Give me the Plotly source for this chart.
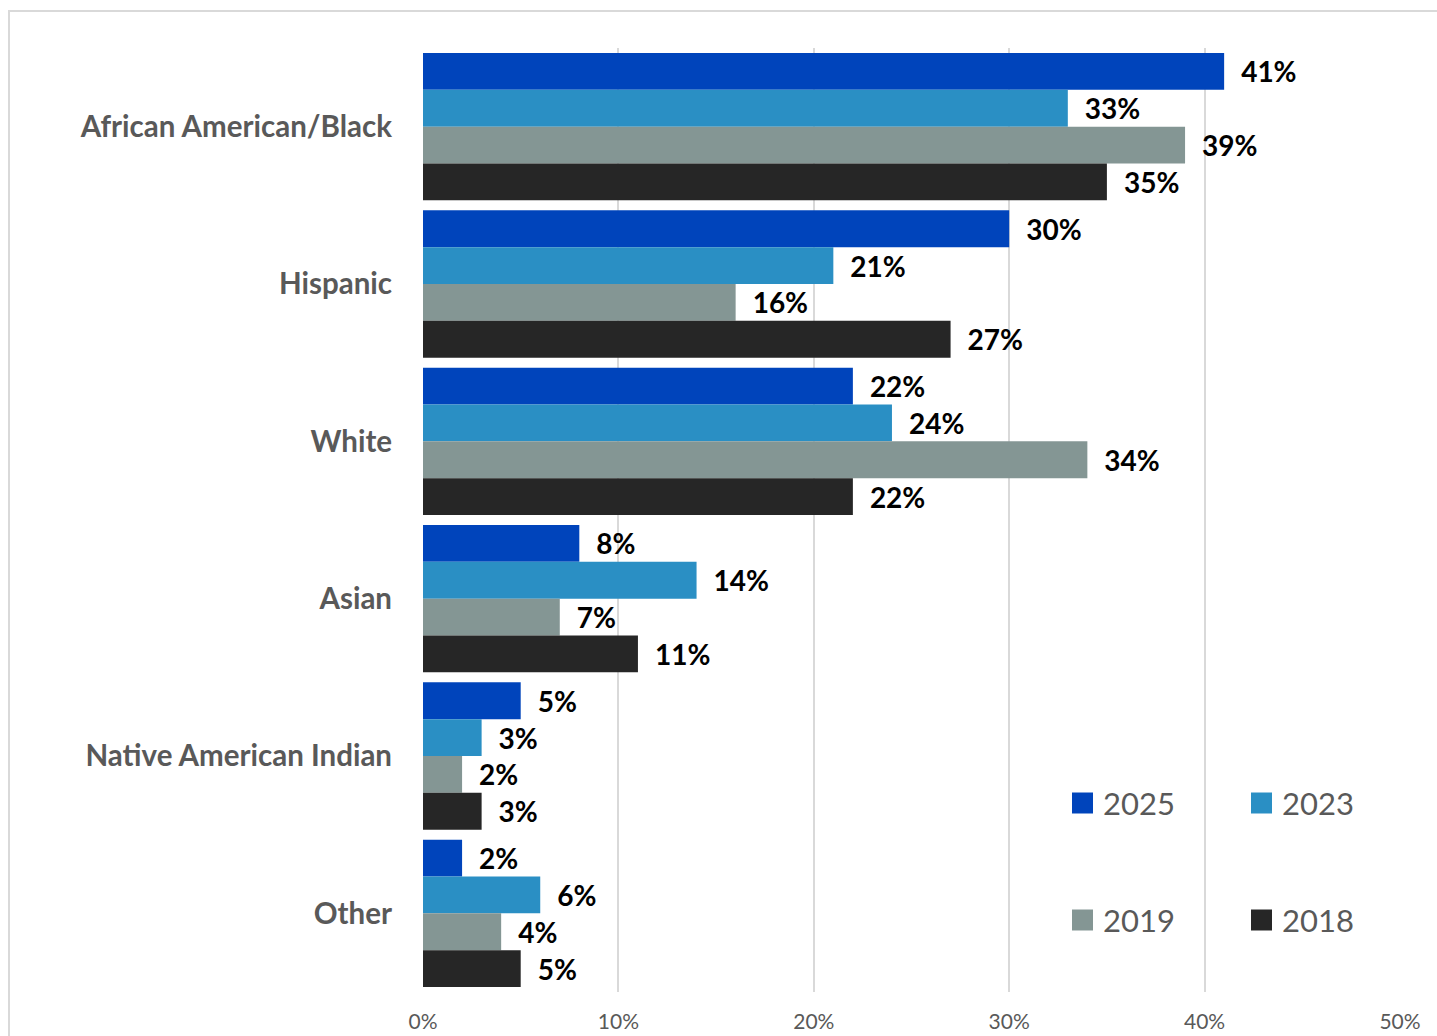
import plotly.graph_objects as go

categories = ["African American/Black", "Hispanic", "White", "Asian",
              "Native American Indian", "Other"]
years = ["2025", "2023", "2019", "2018"]
values_2025 = [41, 30, 22, 8, 5, 2]
values_2023 = [33, 21, 24, 14, 3, 6]
values_2019 = [39, 16, 34, 7, 2, 4]
values_2018 = [35, 27, 22, 11, 3, 5]
tick_vals = [0, 10, 20, 30, 40, 50]
tick_text = ["0%", "10%", "20%", "30%", "40%", "50%"]

series = [values_2025, values_2023, values_2019, values_2018]
colors = ["#0044BB", "#2A8FC4", "#849694", "#262626"]

W, H = 1437, 1036
L, R_EDGE, T, B_EDGE = 423, 1400, 48, 992
FONT = "Lato"

fig = go.Figure()
for yr, vals, col in zip(years, series, colors):
    fig.add_trace(go.Bar(
        y=categories, x=vals, name=yr, orientation="h",
        marker=dict(color=col, line=dict(width=0)),
        # en space keeps the value label clear of the bar end
        text=[f"\u2002{v}%" for v in vals], textposition="outside",
        textfont=dict(family=FONT, size=28, color="#000000", weight="bold"),
        cliponaxis=False, showlegend=False,
    ))


def px_to_paper_x(px):
    return (px - L) / (R_EDGE - L)


def px_to_paper_y(py):
    return (B_EDGE - py) / (B_EDGE - T)


# 2x2 legend: colour swatch plus year label
legend_cells = [(1072, 803), (1251, 803), (1072, 920), (1251, 920)]
shapes = []
annotations = []
for (lx, ly), yr, col in zip(legend_cells, years, colors):
    shapes.append(dict(type="rect", xref="paper", yref="paper",
                       x0=px_to_paper_x(lx), x1=px_to_paper_x(lx + 21),
                       y0=px_to_paper_y(ly + 10.5), y1=px_to_paper_y(ly - 10.5),
                       line=dict(width=0), fillcolor=col))
    annotations.append(dict(xref="paper", yref="paper",
                            x=px_to_paper_x(lx + 29), y=px_to_paper_y(ly),
                            xanchor="left", yanchor="middle", showarrow=False,
                            text=yr, font=dict(family=FONT, size=31, color="#595959")))

# light frame around the chart
shapes.append(dict(type="rect", xref="paper", yref="paper",
                   x0=px_to_paper_x(9), x1=px_to_paper_x(1460),
                   y0=px_to_paper_y(1060), y1=px_to_paper_y(11),
                   line=dict(color="#D9D9D9", width=2), fillcolor="rgba(0,0,0,0)",
                   layer="below"))

fig.update_layout(
    width=W, height=H,
    margin=dict(l=L, r=W - R_EDGE, t=T, b=H - B_EDGE),
    paper_bgcolor="white", plot_bgcolor="white",
    barmode="group", bargap=0.064, bargroupgap=0,
    showlegend=False,
    xaxis=dict(range=[0, 50], tickvals=tick_vals, ticktext=tick_text,
               showgrid=True, gridcolor="#D9D9D9", gridwidth=2,
               zeroline=False, showline=False, ticks="", automargin=False,
               tickfont=dict(family=FONT, size=21, color="#595959"),
               ticklabelstandoff=15),
    yaxis=dict(autorange="reversed", showgrid=False, zeroline=False,
               showline=False, ticks="", ticklabelstandoff=30, automargin=False,
               tickfont=dict(family=FONT, size=29.5, color="#595959", weight="bold")),
    shapes=shapes,
    annotations=annotations,
)

fig.write_html("out.html")
